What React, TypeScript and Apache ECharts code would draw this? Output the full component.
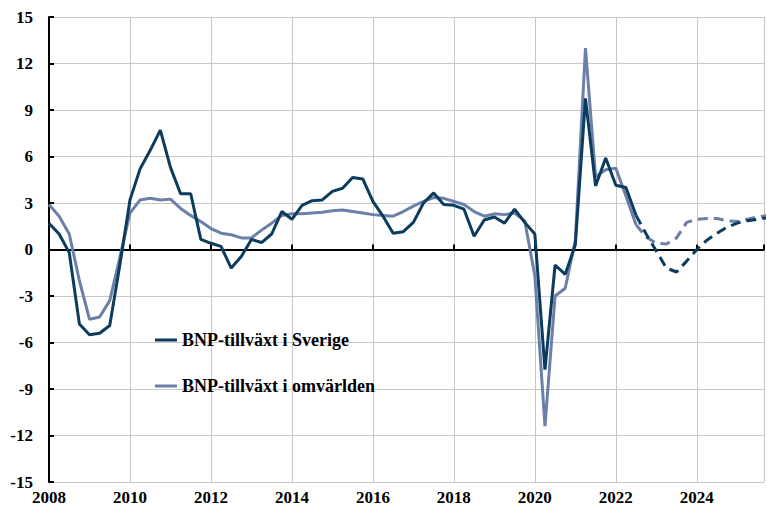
import React, { useEffect, useRef } from "react";
import * as echarts from "echarts";

// Quarterly, 2008Q1 .. 2025Q4
const START_YEAR = 2008;
const NAME_SE = "BNP-tillväxt i Sverige";
const NAME_W = "BNP-tillväxt i omvärlden";

// Outcome (solid) up to 2022Q3, forecast (dashed) from 2022Q3
const sverigeOutcome = [
  1.7, 1.0, -0.2, -4.8, -5.5, -5.4, -4.9, -1.0,
  3.2, 5.2, 6.4, 7.7, 5.3, 3.6, 3.6, 0.65,
  0.4, 0.2, -1.2, -0.45, 0.65, 0.45, 1.0, 2.45,
  1.95, 2.85, 3.15, 3.2, 3.75, 3.95, 4.65, 4.55,
  3.1, 2.15, 1.05, 1.15, 1.75, 3.0, 3.65, 2.9,
  2.85, 2.6, 0.85, 1.9, 2.1, 1.7, 2.6, 1.75,
  1.0, -7.75, -1.0, -1.6, 0.3, 9.75, 4.1, 5.9,
  4.15, 4.0, 2.2,
];
const sverigeForecast = [2.2, 1.0, -0.1, -1.2, -1.45, -0.75, 0.0, 0.6, 1.05, 1.45, 1.7, 1.85, 1.95, 2.05];

const omvarldenOutcome = [
  2.9, 2.15, 1.0, -2.0, -4.5, -4.35, -3.3, -0.5,
  2.35, 3.2, 3.3, 3.2, 3.25, 2.65, 2.2, 1.8,
  1.35, 1.05, 0.95, 0.75, 0.75, 1.25, 1.7, 2.2,
  2.3, 2.3, 2.35, 2.4, 2.5, 2.55, 2.45, 2.35,
  2.25, 2.2, 2.15, 2.45, 2.8, 3.1, 3.35, 3.3,
  3.1, 2.9, 2.45, 2.15, 2.3, 2.25, 2.35, 1.85,
  -1.7, -11.4, -3.0, -2.5, 0.6, 13.0, 4.7, 5.15,
  5.25, 3.45, 1.6,
];
const omvarldenForecast = [1.6, 0.8, 0.4, 0.35, 0.75, 1.75, 1.95, 2.0, 2.0, 1.85, 1.8, 1.95, 2.1, 2.2];

const yTicks = { min: -15, max: 15, interval: 3 };
const xTicks = { min: 2008, max: 2025.66, interval: 2 };

const DARK = "#0b3c5d";
const LIGHT = "#6b7fa8";
const FONT = "'Liberation Serif', 'Times New Roman', serif";

function toPoints(values: number[], startIndex: number) {
  return values.map((v, k) => [START_YEAR + (startIndex + k) / 4, v]);
}

export default function App() {
  const ref = useRef<HTMLDivElement>(null);

  useEffect(() => {
    if (!ref.current) return;
    const chart = echarts.init(ref.current, null, { renderer: "svg" });
    const forecastStart = sverigeOutcome.length - 1;
    const axisLabelStyle = { fontFamily: FONT, fontWeight: "bold" as const, fontSize: 17, color: "#000" };
    const legendText = { fontFamily: FONT, fontWeight: "bold" as const, fontSize: 18, color: "#000", lineHeight: 18 };

    const legendBase = {
      orient: "vertical",
      left: 155,
      padding: 0,
      icon: "rect",
      itemWidth: 22,
      itemHeight: 3,
      textStyle: legendText,
    };

    chart.setOption({
      animation: false,
      backgroundColor: "#fff",
      grid: { left: 49, right: 0, top: 17, bottom: 31, containLabel: false },
      legend: [
        { ...legendBase, data: [NAME_SE], top: 331 },
        { ...legendBase, data: [NAME_W], top: 377 },
      ],
      xAxis: [
        {
          type: "value",
          min: xTicks.min,
          max: xTicks.max,
          interval: xTicks.interval,
          position: "bottom",
          axisLine: { show: false, onZero: false },
          axisTick: { show: false },
          axisLabel: {
            ...axisLabelStyle,
            margin: 7,
            formatter: (v: number) => (Number.isInteger(v) ? String(v) : ""),
          },
          splitLine: { show: true, lineStyle: { color: "#c8c8c8", width: 1 } },
        },
        {
          type: "value",
          min: xTicks.min,
          max: xTicks.max,
          interval: xTicks.interval,
          position: "bottom",
          axisLine: { show: true, onZero: true, lineStyle: { color: "#000", width: 2 } },
          axisTick: { show: true, inside: true, length: 5, lineStyle: { color: "#000", width: 2 } },
          axisLabel: { show: false },
          splitLine: { show: false },
        },
      ],
      yAxis: {
        type: "value",
        min: yTicks.min,
        max: yTicks.max,
        interval: yTicks.interval,
        axisLine: { show: true, onZero: false, lineStyle: { color: "#000", width: 2 } },
        axisTick: { show: true, inside: true, length: 5, lineStyle: { color: "#000", width: 2 } },
        axisLabel: { ...axisLabelStyle, margin: 16 },
        splitLine: { show: true, lineStyle: { color: "#c8c8c8", width: 1 } },
      },
      series: [
        {
          name: NAME_W,
          type: "line",
          symbol: "none",
          data: toPoints(omvarldenOutcome, 0),
          lineStyle: { color: LIGHT, width: 3 },
          itemStyle: { color: LIGHT },
          z: 2,
        },
        {
          name: NAME_W + " prognos",
          type: "line",
          symbol: "none",
          data: toPoints(omvarldenForecast, forecastStart),
          lineStyle: { color: LIGHT, width: 3, type: [10, 6] },
          itemStyle: { color: LIGHT },
          z: 2,
        },
        {
          name: NAME_SE,
          type: "line",
          symbol: "none",
          data: toPoints(sverigeOutcome, 0),
          lineStyle: { color: DARK, width: 3 },
          itemStyle: { color: DARK },
          z: 3,
        },
        {
          name: NAME_SE + " prognos",
          type: "line",
          symbol: "none",
          data: toPoints(sverigeForecast, forecastStart),
          lineStyle: { color: DARK, width: 3, type: [10, 6] },
          itemStyle: { color: DARK },
          z: 3,
        },
      ],
    });
    return () => chart.dispose();
  }, []);

  return (
    <div
      ref={ref}
      style={{ position: "absolute", left: 0, top: 0, width: 767, height: 513 }}
    />
  );
}
